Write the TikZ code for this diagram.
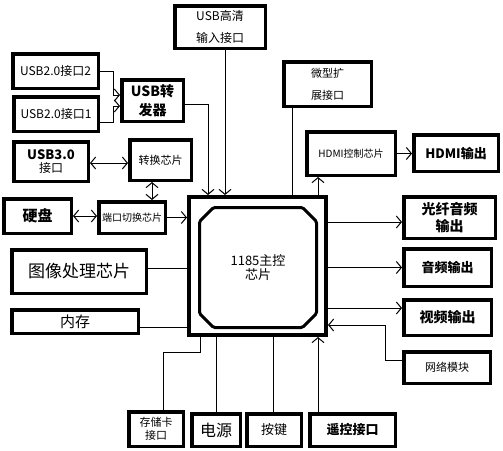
\documentclass[tikz,border=0pt]{standalone}
\usepackage{fontspec}
\newfontfamily\cjk{Noto Sans CJK SC}
\usetikzlibrary{arrows.meta,shapes.misc}
\newcommand{\fsz}[1]{\fontsize{#1}{#1}\selectfont}
\tikzset{
  box/.style={draw, line width=3.5pt, inner sep=0pt, align=center, font=\cjk},
  conn/.style={line width=1pt},
  arr/.style={conn, -{Straight Barb[length=5pt,width=12pt,line width=1pt]}},
  darr/.style={conn, {Straight Barb[length=5pt,width=12pt,line width=1pt]}-{Straight Barb[length=5pt,width=12pt,line width=1pt]}},
}
\begin{document}
\begin{tikzpicture}[x=1pt,y=-1pt]
\useasboundingbox (0,0) rectangle (503,450);
% boxes
\node[box, minimum width=90.5pt, minimum height=42.5pt] (hd) at (220,27) {\fsz{12}USB高清\\[10pt]\fsz{12}输入接口};
\node[box, minimum width=85.5pt, minimum height=34.5pt] (u2) at (55.5,71) {\fsz{12}USB2.0接口2};
\node[box, minimum width=84.5pt, minimum height=34.5pt] (u1) at (56,114) {\fsz{12}USB2.0接口1};
\node[box, minimum width=61.5pt, minimum height=41.5pt] (fw) at (152.5,100.5) {\fsz{14}\bfseries USB转\\[4pt]\fsz{14}\bfseries 发器};
\node[box, minimum width=74.5pt, minimum height=39.5pt] (u3) at (51,161.5) {\fsz{13}\bfseries USB3.0\\[1pt]\fsz{12}接口};
\node[box, minimum width=61.5pt, minimum height=40.5pt] (zh) at (160.5,160) {\fsz{11}转换芯片};
\node[box, minimum width=67.5pt, minimum height=34.5pt] (hdd) at (37.5,216) {\fsz{15}\bfseries 硬盘};
\node[box, minimum width=66.5pt, minimum height=31.5pt] (dk) at (132,217.5) {\fsz{10}端口切换芯片};
\node[box, line width=4pt, minimum width=137pt, minimum height=138pt] (main) at (257.5,266) {};
\node[draw, line width=3pt, chamfered rectangle, chamfered rectangle xsep=7pt, chamfered rectangle ysep=7pt, rounded corners=1.5pt, minimum width=117pt, minimum height=120pt, inner sep=0pt, align=center, font=\cjk] (core) at (258,267.5) {\fsz{13}1185主控\\[2pt]\fsz{13}芯片};
\node[box, minimum width=134.5pt, minimum height=43.5pt] (img) at (79,271.5) {\fsz{17}图像处理芯片};
\node[box, minimum width=126.5pt, minimum height=23.5pt] (mem) at (75,321.5) {\raisebox{-2pt}{\fsz{15}内存}};
\node[box, minimum width=54.5pt, minimum height=34.5pt] (card) at (156,429) {\fsz{11}存储卡\\[1pt]\fsz{11}接口};
\node[box, minimum width=48.5pt, minimum height=32.5pt] (pw) at (216,430) {\fsz{16}电源};
\node[box, minimum width=54.5pt, minimum height=32.5pt] (key) at (274,430) {\fsz{13}按键};
\node[box, minimum width=85.5pt, minimum height=32.5pt] (rc) at (352.5,430) {\fsz{13}\bfseries 遥控接口};
\node[box, minimum width=87.5pt, minimum height=44.5pt] (mx) at (327.5,84) {\fsz{11}微型扩\\[10pt]\fsz{11}展接口};
\node[box, minimum width=88.5pt, minimum height=43.5pt] (hc) at (351,153.5) {\fsz{10}HDMI控制芯片};
\node[box, minimum width=84.5pt, minimum height=36.5pt] (ho) at (456,153) {\fsz{13}\bfseries HDMI输出};
\node[box, minimum width=91.5pt, minimum height=41.5pt] (opt) at (449.5,217.5) {\fsz{14}\bfseries 光纤音频\\[2pt]\fsz{14}\bfseries 输出};
\node[box, minimum width=87.5pt, minimum height=37.5pt] (au) at (447.5,267.5) {\fsz{13}\bfseries 音频输出};
\node[box, minimum width=87.5pt, minimum height=35.5pt] (vo) at (447.5,317.5) {\fsz{14}\bfseries 视频输出};
\node[box, minimum width=86.5pt, minimum height=31.5pt] (net) at (447,367.5) {\fsz{11}网络模块};
% connectors
\draw[arr] (u2.east) -- ++(13,0) |- ([yshift=5.5pt]fw.west);
\draw[arr] ([yshift=-8pt]u1.east) -- ++(13,0) |- ([yshift=-5.5pt]fw.west);
\draw[arr] ([yshift=-3.5pt]fw.east) -| ([xshift=-49.5pt]main.north);
\draw[arr] ([xshift=5pt]hd.south) -- ([xshift=-32.5pt]main.north);
\draw[darr] ([yshift=-1.5pt]u3.east) -- ([yshift=-3pt]zh.west);
\draw[darr] ([xshift=-8.5pt]zh.south) -- ([xshift=20pt]dk.north);
\draw[darr] (hdd.east) -- (hdd.east -| dk.west);
\draw[arr] (dk.east) -- (dk.east -| main.west);
\draw[conn] ([yshift=3.5pt]img.east) -- ([yshift=3.5pt]img.east -| main.west);
\draw[conn] ([yshift=-5.5pt]mem.east) -- ([yshift=-5.5pt]mem.east -| main.west);
\draw[conn] ([xshift=-57.5pt]main.south) -- ++(0,15) -| ([xshift=7pt]card.north);
\draw[conn] (pw.north) -- (pw.north |- main.south);
\draw[conn] ([xshift=-1pt]key.north) -- ([xshift=-1pt]key.north |- main.south);
\draw[arr] ([xshift=-34.5pt]rc.north) -- ([xshift=-34.5pt]rc.north |- main.south);
\draw[arr] ([yshift=7.5pt]net.west) -- ++(-17,0) |- ([yshift=-59pt]main.east);
\draw[arr] ([yshift=-42pt]main.east) -- ([yshift=-42pt]main.east -| vo.west);
\draw[arr] (main.east |- au.west) -- (au.west);
\draw[arr] ([yshift=-4.5pt]main.east |- opt.west) -- ([yshift=-4.5pt]opt.west);
\draw[arr] ([xshift=60.5pt]main.north) -- ([xshift=60.5pt]main.north |- hc.south);
\draw[arr] (hc.east) -- (hc.east -| ho.west);
\draw[conn] ([xshift=-35.5pt]mx.south) -- ([xshift=-35.5pt]mx.south |- main.north);
\end{tikzpicture}
\end{document}
